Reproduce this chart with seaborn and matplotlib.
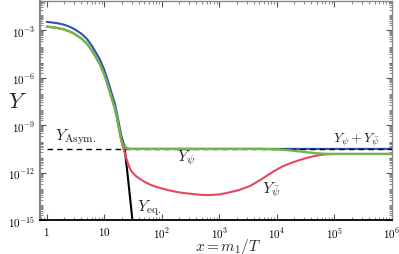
import numpy as np
import pandas as pd
import matplotlib
matplotlib.use("Agg")
import matplotlib.pyplot as plt
import matplotlib.ticker as mticker
import seaborn as sns

# ---- data (x = m1/T, log10 Y) ----
x_tot = [1, 1.5, 2, 2.5, 3, 4, 5, 6, 7, 8.4, 10, 11, 12.5, 14, 15.2, 16.5, 18, 19.5, 21, 22.5,
         24, 26, 30, 100, 1e3, 1e4, 1e5, 1e6]
logY_tot = [-2.47, -2.55, -2.65, -2.78, -2.92, -3.22, -3.55, -3.95, -4.35, -4.85, -5.5, -5.95,
            -6.6, -7.2, -7.6, -8.2, -8.9, -9.55, -10.05, -10.32, -10.44, -10.49, -10.5, -10.5,
            -10.5, -10.5, -10.5, -10.5]

x_psi = [1, 1.5, 2, 2.5, 3, 4, 5, 6, 7, 8.4, 10, 11, 12.5, 14, 15.2, 16.5, 18, 19.5, 21, 22.5,
         24, 26, 30, 100, 1e3, 5e3, 8e3, 1.2e4, 1.8e4, 2.5e4, 3.5e4, 5e4, 7e4, 1e5, 1e6]
logY_psi = [-2.77, -2.85, -2.95, -3.08, -3.22, -3.52, -3.85, -4.25, -4.65, -5.15, -5.8, -6.25,
            -6.9, -7.5, -7.9, -8.5, -9.2, -9.8, -10.2, -10.4, -10.47, -10.5, -10.5, -10.5,
            -10.5, -10.5, -10.52, -10.55, -10.6, -10.66, -10.72, -10.78, -10.81, -10.82, -10.82]

x_bar = [1, 1.5, 2, 2.5, 3, 4, 5, 6, 7, 8.4, 10, 11, 12.5, 14, 15.2, 16.5, 18, 19.5, 21, 22.5,
         24, 26, 28, 31, 35, 40, 50, 62, 80, 100, 137, 200, 300, 460, 630, 1000, 1500, 2200,
         3400, 5000, 6700, 9000, 12700, 18000, 25000, 35000, 45000, 63000, 1e5, 1e6]
logY_bar = [-2.77, -2.85, -2.95, -3.08, -3.22, -3.52, -3.85, -4.25, -4.65, -5.15, -5.8, -6.25,
            -6.9, -7.5, -7.9, -8.5, -9.2, -9.9, -10.35, -10.7, -11.05, -11.45, -11.75, -12.0,
            -12.2, -12.35, -12.58, -12.75, -12.9, -13.0, -13.13, -13.25, -13.33, -13.4,
            -13.42, -13.38, -13.25, -13.1, -12.85, -12.5, -12.2, -11.9, -11.6, -11.38, -11.2,
            -11.05, -10.95, -10.86, -10.82, -10.82]

x_eq = [20, 22.7, 26, 31, 33]
logY_eq = [-9.8, -10.5, -12.44, -15.06, -16.0]

y_asym = 3.0e-11
x_ticks = [1, 10, 1e2, 1e3, 1e4, 1e5, 1e6]
x_ticklabels = ["$1$", "$10$", "$10^{2}$", "$10^{3}$", "$10^{4}$", "$10^{5}$", "$10^{6}$"]
y_ticks = [1e-15, 1e-12, 1e-9, 1e-6, 1e-3]
y_ticklabels = ["$10^{-15}$", "$10^{-12}$", "$10^{-9}$", "$10^{-6}$", "$10^{-3}$"]

df_tot = pd.DataFrame({"x": x_tot, "Y": np.power(10.0, logY_tot)})
df_psi = pd.DataFrame({"x": x_psi, "Y": np.power(10.0, logY_psi)})
df_bar = pd.DataFrame({"x": x_bar, "Y": np.power(10.0, logY_bar)})
df_eq = pd.DataFrame({"x": x_eq, "Y": np.power(10.0, logY_eq)})

sns.set_style("ticks")
plt.rcParams["mathtext.fontset"] = "cm"
plt.rcParams["font.family"] = ["DejaVu Sans"]

fig = plt.figure(figsize=(3.99, 2.55), dpi=100)
ax = fig.add_axes([0.100, 0.133, 0.882, 0.859])
ax.set_xscale("log")
ax.set_yscale("log")

sns.lineplot(data=df_tot, x="x", y="Y", ax=ax, color="#3551b0", lw=1.5, zorder=2)
ax.plot([1, 1e6], [y_asym, y_asym], ls=(0, (4, 3)), color="black", lw=1.0, zorder=3)
sns.lineplot(data=df_eq, x="x", y="Y", ax=ax, color="black", lw=1.5, zorder=3)
sns.lineplot(data=df_bar, x="x", y="Y", ax=ax, color="#e8455f", lw=1.5, zorder=4)
sns.lineplot(data=df_psi, x="x", y="Y", ax=ax, color="#6cb948", lw=1.7, zorder=5)

ax.set_xlim(0.76, 1.0e6)
ax.set_ylim(1e-15, 7e-2)

ax.set_xticks(x_ticks)
ax.set_xticklabels(x_ticklabels)
ax.set_yticks(y_ticks)
ax.set_yticklabels(y_ticklabels)
ax.xaxis.set_minor_locator(mticker.LogLocator(base=10, subs=np.arange(2, 10), numticks=50))
ax.yaxis.set_minor_locator(mticker.LogLocator(base=10, subs=np.arange(2, 10), numticks=50))
ax.yaxis.set_minor_formatter(mticker.NullFormatter())
ax.xaxis.set_minor_formatter(mticker.NullFormatter())
ax.tick_params(which="both", direction="in", top=True, right=True, labelsize=8, colors="#555555",
               labelcolor="black")
ax.tick_params(which="major", length=4, width=0.8)
ax.tick_params(which="minor", length=2, width=0.5)

for side in ["top", "right", "left"]:
    ax.spines[side].set_color("#888888")
ax.spines["left"].set_linewidth(1.6)
ax.spines["top"].set_linewidth(1.0)
ax.spines["right"].set_linewidth(1.0)
ax.spines["bottom"].set_color("black")
ax.spines["bottom"].set_linewidth(1.3)

ax.set_xlabel("$x = m_1/T$", fontsize=11, labelpad=0, va="baseline")
ax.xaxis.set_label_coords(0.534, -0.137)
ax.set_ylabel("$Y$", fontsize=16, rotation=0, labelpad=0)
ax.yaxis.set_label_coords(-0.065, 0.50)

ax.text(1.38, 5.0e-11, r"$Y_{\rm Asym.}$", fontsize=11.5, va="bottom", ha="left")
ax.text(185, 1.0e-11, r"$Y_{\psi}$", fontsize=11.5, va="center", ha="left")
ax.text(5500, 9.0e-14, r"$Y_{\bar{\psi}}$", fontsize=11.5, va="center", ha="left")
ax.text(37, 6.6e-15, r"$Y_{\rm eq.}$", fontsize=11.5, va="center", ha="left")
ax.text(9.4e4, 1.35e-10, r"$Y_{\psi}+Y_{\bar{\psi}}$", fontsize=10, va="center", ha="left")

fig.savefig("out.png", dpi=100)
